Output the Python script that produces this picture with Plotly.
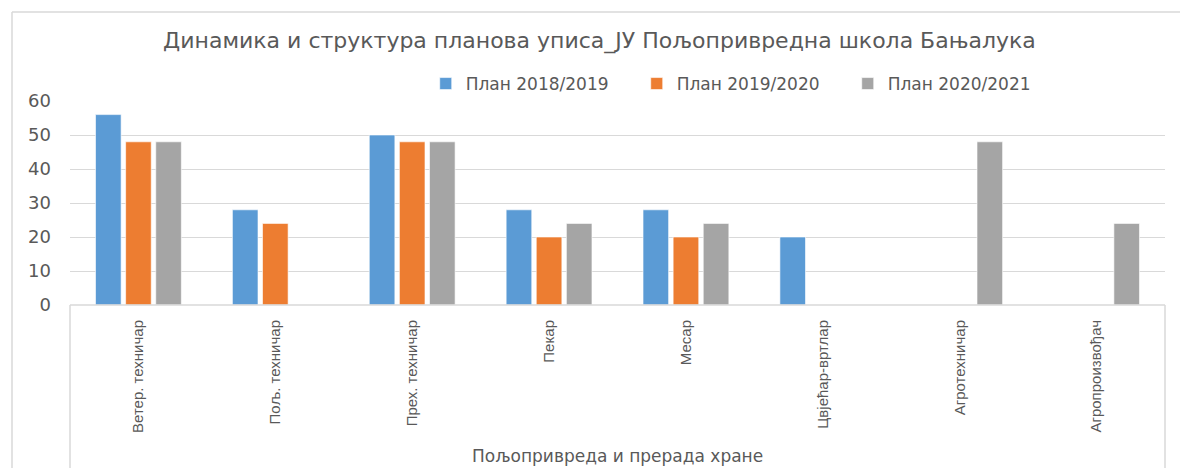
import plotly.graph_objects as go

categories = ["Ветер. техничар", "Пољ. техничар", "Прех. техничар", "Пекар",
              "Месар", "Цвјећар-вртлар", "Агротехничар", "Агропроизвођач"]
series_names = ["План 2018/2019", "План 2019/2020", "План 2020/2021"]
plan_2018 = [56, 28, 50, 28, 28, 20, None, None]
plan_2019 = [48, 24, 48, 20, 20, None, None, None]
plan_2020 = [48, None, 48, 24, 24, None, 48, 24]
y_ticks = [0, 10, 20, 30, 40, 50, 60]
group_label = "Пољопривреда и прерада хране"
title_text = "Динамика и структура планова уписа_ЈУ Пољопривредна школа Бањалука"

colors = ["#5B9BD5", "#ED7D31", "#A5A5A5"]
text_color = "#595959"
grid_color = "#D9D9D9"

W, H = 1180, 468
L, R, T, B = 70, 15, 101, 163
pw, ph = W - L - R, H - T - B

def px_x(x):
    return (x - L) / pw

def px_y(y):
    return 1 - (y - T) / ph

fig = go.Figure()
for name, vals, col in zip(series_names, [plan_2018, plan_2019, plan_2020], colors):
    fig.add_trace(go.Bar(x=categories, y=vals, name=name,
                         marker=dict(color=col, line=dict(color="rgba(255,255,255,0.6)", width=1))))

wide = "DejaVu Sans, Verdana, sans-serif"
fig.update_layout(
    width=W, height=H,
    margin=dict(l=L, r=R, t=T, b=B, autoexpand=False),
    paper_bgcolor="white", plot_bgcolor="white",
    barmode="group", bargap=0.34, bargroupgap=0.15,
    font=dict(family="Liberation Sans, Arial, sans-serif", color=text_color),
    title=dict(text=title_text, x=0.508, xanchor="center", xref="container",
               y=1 - 40 / H, yanchor="middle", yref="container",
               font=dict(family=wide, size=22, color=text_color)),
    legend=dict(orientation="h", x=0.629, xanchor="center", xref="container",
                y=1 - 84 / H, yanchor="middle", yref="container",
                font=dict(family=wide, size=17, color=text_color), entrywidth=166,
                traceorder="normal"),
    showlegend=True,
)
fig.update_yaxes(range=[0, 60], tickvals=y_ticks, showgrid=True, gridcolor=grid_color,
                 gridwidth=1, zeroline=False, showline=False,
                 ticks="", ticklabelstandoff=18,
                 tickfont=dict(family=wide, size=18, color=text_color))
fig.update_xaxes(tickangle=-90, showline=False, ticks="", ticklabelstandoff=11,
                 tickfont=dict(size=15, color=text_color))

shapes = []
# axis box below plot
shapes.append(dict(type="line", xref="paper", yref="paper", x0=0, x1=1, y0=0, y1=0,
                   line=dict(color=grid_color, width=1.5)))
shapes.append(dict(type="line", xref="paper", yref="paper", x0=0, x1=0, y0=0, y1=px_y(H + 5),
                   line=dict(color=grid_color, width=1.5)))
shapes.append(dict(type="line", xref="paper", yref="paper", x0=1, x1=1, y0=0, y1=px_y(H + 5),
                   line=dict(color=grid_color, width=1.5)))
# outer chart border
shapes.append(dict(type="line", xref="paper", yref="paper", x0=px_x(12), x1=px_x(W + 5),
                   y0=px_y(12), y1=px_y(12), line=dict(color=grid_color, width=1.5)))
shapes.append(dict(type="line", xref="paper", yref="paper", x0=px_x(12), x1=px_x(12),
                   y0=px_y(12), y1=px_y(H + 5), line=dict(color=grid_color, width=1.5)))
fig.update_layout(shapes=shapes)

fig.add_annotation(text=group_label, xref="paper", yref="paper", x=0.5, xanchor="center",
                   y=px_y(468), yanchor="bottom", showarrow=False,
                   font=dict(family=wide, size=17, color=text_color))

fig.write_html("out.html", config={"displayModeBar": False},
               post_script="document.body.style.margin='0';")
